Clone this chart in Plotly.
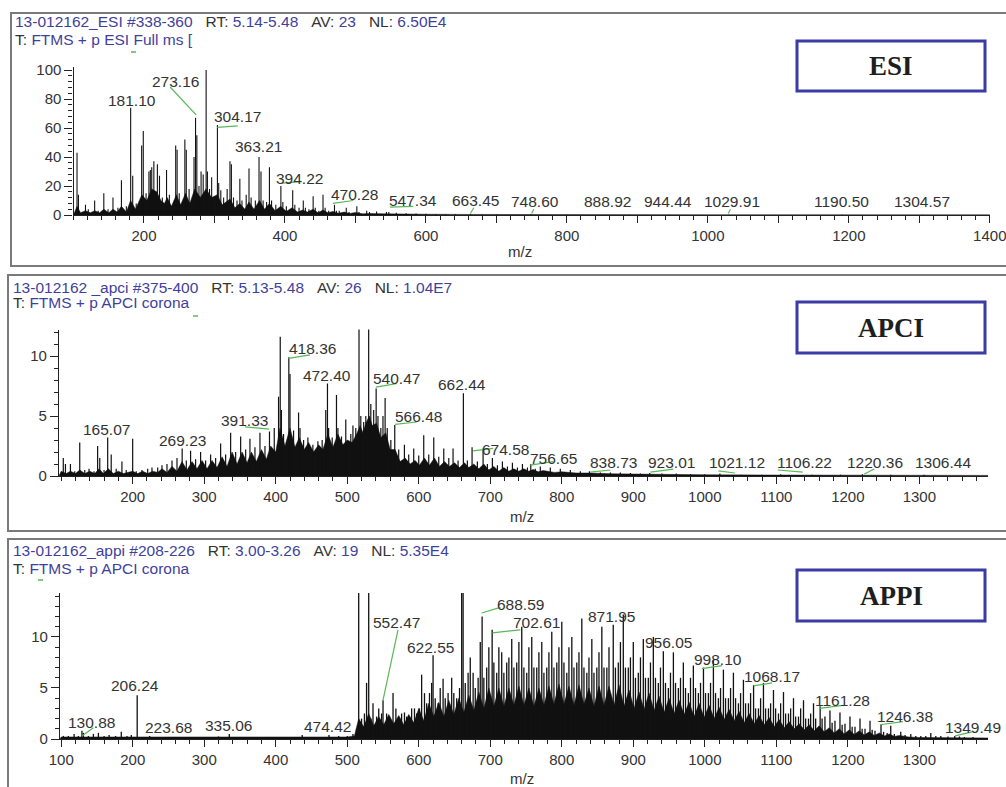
import plotly.graph_objects as go

W, H = 1006, 787

# ---------------- DATA ----------------
# ESI spectrum: stick peaks (m/z, relative abundance)
esi_mz = [105, 107, 117, 121, 130, 135, 143, 149, 156, 163, 168, 175, 181.10, 184, 189, 196.7, 199, 203,
          207, 209, 211, 214, 219, 222, 226, 232, 236, 245, 247, 250, 258, 260, 264, 271, 273.16, 275, 278,
          281, 284, 288.17, 290, 293, 296, 304.17, 306, 309, 313, 318, 322, 324, 327, 332, 336, 339, 345,
          349, 352, 358, 363.21, 366, 369, 374, 378, 381, 387, 394.22, 397, 402, 411, 414, 420, 426, 429,
          434, 440, 443, 448, 454, 457, 462, 470.28, 473, 477, 487, 491, 502, 505, 516, 520, 530, 544,
          547.34, 558, 572, 586, 600, 614, 628, 642, 663.45, 680, 700, 748.60, 800, 888.92, 944.44,
          1029.91, 1190.50, 1304.57]
esi_int = [43, 14, 7, 4, 10, 3, 15, 4, 12, 5, 24, 6, 74, 27, 8, 48, 58, 15,
           30, 31, 33, 37, 35, 27, 12, 31, 14, 48, 45, 15, 52, 45, 18, 40, 67, 55, 20,
           30, 28, 100, 30, 18, 26, 62, 22, 17, 12, 18, 37, 35, 12, 10, 25, 10, 14,
           32, 12, 10, 40, 30, 10, 9, 33, 10, 7, 20, 9, 6, 17, 7, 5, 10, 5,
           4, 13, 5, 3, 14, 5, 3, 7, 3, 3, 5, 2, 6, 2, 3, 2, 2.5, 2,
           2, 1.5, 1.2, 1, 0.8, 0.6, 0.5, 0.5, 0.6, 0.4, 0.3, 0.3, 0.2, 0.2, 0.2,
           0.2, 0.2, 0.2]
# ESI unresolved baseline envelope
esi_env_mz = [100, 105, 110, 117, 124, 130, 137, 143, 150, 156, 162, 168, 175, 181, 188, 197, 204, 211,
              218, 224, 229, 233, 239, 246, 252, 259, 265, 272, 280, 288, 296, 304, 311, 322, 329, 336,
              343, 349, 356, 364, 371, 378, 386, 394, 402, 410, 418, 425, 432, 440, 447, 454, 461, 468,
              476, 484, 492, 500, 510, 520, 540, 560, 600, 650, 700, 800, 1000, 1400]
esi_env_int = [0, 6, 1.5, 3, 1.5, 3, 1.5, 4, 1.5, 4, 2, 6, 2, 10, 4, 14, 10, 18,
               16, 10, 8, 12, 6, 14, 7, 15, 8, 18, 12, 18, 12, 14, 7, 11, 5, 8,
               4, 9, 4, 10, 4, 8, 3, 6, 2.5, 5, 2, 3.5, 2, 4, 1.5, 3.5, 1.5, 2.5,
               1.2, 2, 1, 1.8, 0.8, 1, 0.8, 0.6, 0.5, 0.4, 0.3, 0.2, 0.15, 0.1]
esi_labels = ["288.17", "273.16", "181.10", "304.17", "363.21", "394.22", "470.28", "547.34",
              "663.45", "748.60", "888.92", "944.44", "1029.91", "1190.50", "1304.57"]

# APCI spectrum
apci_mz = [103, 106, 113, 119, 126, 133, 139, 146, 151, 154, 160, 165.07, 170, 177, 185, 191, 200, 205,
           213, 221, 227, 235, 241, 248, 255, 262, 269.23, 275, 281, 288, 295, 302, 309, 316, 323, 330,
           337, 344, 351, 358, 364, 371, 378, 385, 391.33, 398, 404, 406.36, 408, 411, 418.36, 420, 425,
           432, 434, 439, 445, 452, 459, 465, 470, 472.40, 474, 479, 485, 487, 492, 498, 505, 508, 512,
           516.5, 519, 523, 526, 530, 533, 537, 540.47, 543, 547, 550, 553, 556, 561, 566.48, 572, 580,
           586, 593, 600, 607, 614, 621, 628, 635, 642, 648, 655, 662.44, 668, 674.58, 682, 690, 696,
           703, 710, 717, 724, 731, 738, 745, 752, 756.65, 763, 770, 784, 798, 812, 826, 838.73, 854,
           868, 882, 896, 910, 923.01, 940, 960, 980, 1000, 1021.12, 1050, 1080, 1106.22, 1150, 1190,
           1220.36, 1260, 1306.44]
apci_int = [1.5, 1.0, 1.0, 0.4, 2.8, 0.5, 0.6, 0.4, 2.5, 1.5, 0.5, 3.2, 1.8, 0.6, 1.2, 0.5, 3.1, 0.4,
            0.5, 0.6, 0.7, 0.7, 0.9, 1.0, 1.3, 1.5, 2.3, 1.3, 2.1, 1.4, 2.0, 1.3, 1.8, 1.5, 2.7, 1.8,
            3.6, 2.0, 3.3, 2.2, 3.1, 2.4, 3.6, 2.5, 3.7, 4.0, 6.6, 11.6, 5.5, 3.5, 9.9, 8.5, 3.8,
            5.3, 4.0, 3.0, 3.2, 2.6, 2.9, 3.0, 5.5, 7.7, 4.0, 3.2, 6.75, 4.0, 3.3, 4.7, 3.5, 4.2, 4.0,
            15, 5.0, 4.5, 5.0, 15, 6.0, 5.5, 7.3, 5.0, 4.0, 5.0, 6.5, 4.0, 3.0, 4.25, 2.2, 2.6,
            1.8, 2.3, 1.7, 3.4, 1.8, 3.2, 1.6, 2.3, 1.5, 2.3, 1.3, 6.9, 1.3, 2.4, 1.2, 2.3, 1.0,
            1.5, 0.9, 1.2, 0.8, 1.1, 0.7, 1.0, 0.7, 1.0, 0.6, 0.8, 0.7, 0.6, 0.5, 0.4, 0.4, 0.3,
            0.3, 0.3, 0.25, 0.2, 0.25, 0.2, 0.2, 0.15, 0.15, 0.2, 0.1, 0.1, 0.15, 0.1, 0.1,
            0.15, 0.1, 0.1]
apci_env_mz = [97, 100, 107, 113, 120, 126, 133, 140, 147, 153, 159, 166, 173, 180, 187, 200, 207, 214, 221,
               228, 235, 241, 248, 255, 262, 269, 276, 283, 290, 297, 304, 311, 318, 325, 332, 339, 346,
               353, 360, 366, 373, 380, 387, 393, 400, 406, 413, 420, 427, 433, 440, 446, 453, 460, 466,
               473, 480, 487, 494, 500, 507, 514, 518, 522, 526, 531, 535, 541, 547, 554, 560, 567, 574,
               581, 588, 595, 601, 608, 615, 622, 629, 636, 643, 650, 657, 664, 670, 677, 684, 691, 698,
               705, 712, 719, 726, 733, 740, 747, 754, 760, 767, 774, 790, 800, 820, 840, 870, 900, 950,
               1000, 1100, 1200, 1396]
apci_env_int = [0, 0.4, 0.2, 0.4, 0.2, 0.5, 0.2, 0.4, 0.2, 0.6, 0.2, 0.6, 0.2, 0.4, 0.2, 0.4, 0.2, 0.4, 0.2,
                0.4, 0.3, 0.6, 0.3, 0.8, 0.4, 1.2, 0.5, 1.2, 0.6, 1.3, 0.6, 1.3, 0.7, 1.6, 0.8, 2.0, 1.0,
                2.0, 1.1, 2.0, 1.2, 2.2, 1.4, 2.5, 2.0, 4.0, 2.5, 4.0, 2.4, 3.2, 2.2, 2.8, 2.0, 2.6, 2.2,
                3.5, 2.4, 3.5, 2.6, 3.0, 2.8, 3.6, 4.2, 3.6, 4.4, 5.0, 4.2, 4.4, 3.2, 3.6, 2.2, 2.2, 1.2,
                1.5, 1.0, 1.3, 0.9, 1.5, 0.9, 1.5, 0.8, 1.2, 0.8, 1.1, 0.7, 1.1, 0.7, 1.0, 0.6, 1.0, 0.5,
                0.8, 0.4, 0.7, 0.4, 0.6, 0.4, 0.6, 0.4, 0.55, 0.35, 0.45, 0.3, 0.35, 0.25, 0.25, 0.18, 0.15, 0.12,
                0.1, 0.08, 0.06, 0.05]
apci_labels = ["406.36", "418.36", "472.40", "540.47", "662.44", "165.07", "269.23", "391.33", "566.48",
               "674.58", "756.65", "838.73", "923.01", "1021.12", "1106.22", "1220.36", "1306.44"]

# APPI spectrum
appi_mz = [103, 110, 118, 124, 129, 131, 138, 145, 152, 160, 167, 176, 184, 192, 198, 206.24, 215, 223.68,
           235, 250, 265, 280, 300, 320, 335.06, 350, 370, 390, 410, 437, 452, 474.42, 488, 500, 508, 513,
           516, 520, 524, 527, 530, 533, 536, 541, 544, 548, 550, 555, 559, 564, 568, 572, 576, 580, 583,
           587, 590, 594, 597, 601, 604, 608, 611, 615, 618, 620, 623, 627, 630, 634, 637, 641, 646, 649,
           653, 657, 660, 662, 665, 669, 672, 676, 679, 683, 686, 688.59, 691, 695, 698, 702.61, 705, 709,
           712, 716, 719, 723, 726, 730, 733, 737, 740, 744, 747, 751, 754, 758, 761, 765, 768, 772, 775,
           779, 782, 786, 789, 793, 796, 800, 803, 807, 810, 814, 817, 821, 824, 828, 831, 835, 838, 842,
           845, 849, 852, 856, 859, 863, 866, 871.95, 875, 879, 882, 886, 889, 893, 896, 900, 903, 907,
           910, 914, 917, 921, 924, 928, 931, 935, 938, 942, 945, 949, 952, 956.05, 959, 963, 966, 970,
           973, 977, 980, 984, 987, 991, 994, 998.10, 1001, 1005, 1008, 1012, 1015, 1019, 1022, 1026,
           1029, 1033, 1036, 1040, 1043, 1047, 1050, 1054, 1057, 1061, 1064, 1068.17, 1071, 1075, 1078,
           1082, 1085, 1089, 1092, 1096, 1099, 1103, 1106, 1110, 1113, 1117, 1120, 1124, 1127, 1131,
           1134, 1138, 1141, 1145, 1148, 1152, 1155, 1161.28, 1164, 1168, 1175, 1178, 1182, 1189, 1192,
           1196, 1203, 1206, 1210, 1217, 1220, 1224, 1231, 1234, 1238, 1246.38, 1250, 1255, 1260, 1265,
           1274, 1280, 1288, 1295, 1302, 1309, 1316, 1323, 1330, 1340, 1349.49, 1356, 1363, 1375]
appi_int = [0.3, 0.3, 0.5, 0.3, 0.8, 0.6, 0.3, 0.5, 0.6, 0.3, 0.4, 0.3, 0.7, 0.3, 0.4, 4.3, 0.2, 0.3,
            0.2, 0.2, 0.2, 0.2, 0.2, 0.25, 0.5, 0.2, 0.2, 0.2, 0.2, 0.4, 0.2, 0.4, 0.3, 0.3, 0.5, 1.0,
            20, 2.0, 2.5, 5.5, 20, 2.0, 3.5, 2.2, 3.0, 2.5, 3.8, 2.5, 2.2, 4.5, 3.0, 2.0, 2.5, 2.6, 2.2,
            2.0, 3.0, 3.0, 2.5, 3.0, 6.3, 4.5, 3.5, 4.5, 5.5, 8.2, 4.0, 3.5, 5.0, 5.9, 4.0, 4.5, 6.0, 4.5,
            4.0, 5.0, 20, 20, 5.5, 6.5, 8.0, 6.5, 5.0, 6.0, 9.5, 12.0, 6.0, 7.0, 9.0, 10.7, 7.5, 6.5,
            9.0, 8.5, 6.5, 7.5, 8.0, 9.8, 7.0, 7.5, 9.5, 11.0, 7.0, 6.5, 9.0, 10.0, 7.0, 7.0, 8.5, 9.5, 6.5,
            7.0, 8.5, 10.5, 7.0, 7.5, 9.0, 11.5, 7.5, 6.5, 9.0, 10.0, 7.0, 7.5, 8.5, 11.8, 7.0, 6.5, 8.0, 9.8,
            6.5, 7.0, 8.5, 11.0, 7.0, 7.0, 9.0, 11.2, 7.0, 7.5, 9.5, 12.2, 7.0, 7.0, 8.0, 9.5, 6.0, 6.5,
            8.0, 9.8, 6.0, 6.0, 7.5, 10.0, 6.0, 5.5, 7.0, 8.6, 5.5, 5.0, 6.5, 8.5, 5.5, 5.0, 6.0, 7.5,
            5.0, 4.5, 6.0, 7.2, 5.0, 4.5, 5.5, 7.0, 4.5, 4.5, 5.5, 7.8, 4.5, 4.0, 5.0, 6.8,
            4.0, 4.0, 5.0, 6.5, 4.0, 3.5, 4.5, 5.8, 3.5, 3.5, 4.5, 5.3, 3.0, 3.0, 4.0,
            5.5, 3.0, 3.0, 3.5, 4.8, 3.0, 2.5, 3.5, 4.6, 2.5, 2.5, 3.0, 4.0, 2.2, 2.2,
            3.0, 3.8, 2.0, 2.0, 2.5, 3.5, 2.0, 3.2, 2.0, 2.2, 2.8, 1.6, 1.8, 2.6, 1.4,
            1.5, 2.2, 1.2, 1.2, 2.0, 1.0, 1.0, 1.8, 0.9, 0.8, 1.4, 0.7, 0.6, 1.3, 0.5,
            0.7, 0.4, 0.5, 0.3, 0.3, 0.3, 0.6, 0.3, 0.3, 0.25, 0.3, 0.25, 0.2, 0.2]
appi_env_mz = [98.3, 100, 300, 500, 510, 516, 523, 530, 537, 544, 551, 558, 565, 572, 579, 586, 593, 600,
               607, 614, 621, 628, 635, 642, 649, 656, 663, 670, 677, 684, 691, 698, 705, 712, 719, 726,
               733, 740, 747, 754, 761, 768, 775, 782, 789, 796, 803, 810, 817, 824, 831, 838, 845, 852,
               859, 866, 873, 880, 887, 894, 901, 908, 915, 922, 929, 936, 943, 950, 957, 964, 971, 978,
               985, 992, 999, 1006, 1013, 1020, 1027, 1034, 1041, 1048, 1055, 1062, 1069, 1076, 1083,
               1090, 1097, 1104, 1111, 1118, 1125, 1132, 1139, 1146, 1153, 1160, 1167, 1174, 1181, 1188,
               1195, 1202, 1209, 1216, 1223, 1230, 1237, 1244, 1251, 1258, 1265, 1272, 1285, 1300, 1396]
appi_env_int = [0, 0.2, 0.2, 0.2, 0.3, 2.0, 1.2, 2.5, 1.3, 2.2, 1.4, 2.4, 1.5, 2.3, 1.4, 2.4, 1.6, 3.0,
                1.8, 3.5, 2.2, 3.6, 2.2, 3.8, 2.4, 4.0, 2.6, 4.3, 2.8, 4.6, 3.0, 5.0, 3.2, 5.0, 3.2, 5.0,
                3.3, 5.2, 3.3, 5.0, 3.2, 5.0, 3.3, 5.2, 3.4, 5.4, 3.4, 5.2, 3.3, 5.3, 3.4, 5.0, 3.2, 5.2,
                3.3, 5.2, 3.3, 5.3, 3.2, 4.8, 3.0, 4.6, 2.9, 4.5, 2.8, 4.2, 2.6, 4.0, 2.5, 3.8, 2.4, 3.6,
                2.2, 3.5, 2.1, 3.3, 2.0, 3.1, 1.9, 2.9, 1.8, 2.7, 1.6, 2.5, 1.5, 2.3, 1.4,
                2.1, 1.2, 1.9, 1.1, 1.7, 1.0, 1.5, 0.9, 1.4, 0.8, 1.3, 0.7, 1.1, 0.6, 1.0,
                0.5, 0.9, 0.45, 0.8, 0.4, 0.7, 0.35, 0.6, 0.3, 0.5, 0.25, 0.35, 0.2, 0.15, 0.1]
appi_labels = ["130.88", "206.24", "223.68", "335.06", "474.42", "552.47", "622.55", "688.59", "702.61",
               "871.95", "956.05", "998.10", "1068.17", "1161.28", "1246.38", "1349.49"]

# ---------------- POSITIONS / STYLE ----------------
esi_label_pos = [(289, 107), (245, 92), (183, 79), (333, 68), (362, 47), (421, 25.5), (498, 14), (582, 9.7),
                 (670, 9.7), (755, 9), (858, 9), (943, 9), (1034, 9), (1190, 9), (1304, 9)]
esi_leaders = [(237, 88.3, 274, 69), (304, 60.5, 333, 61.5), (396, 22, 424, 23), (468, 8, 497, 10),
               (549, 5.5, 582, 6), (663, 1, 668, 5), (750, 1, 753, 4), (1029, 1, 1032, 4)]
apci_label_pos = [(392, 12.3), (451, 10.6), (472, 8.4), (569, 8.1), (661, 7.6), (164, 3.9), (269, 3.0),
                  (357, 4.6), (599, 5.0), (721, 2.2), (788, 1.5), (872, 1.1), (954, 1.1), (1045, 1.1),
                  (1140, 1.1), (1238, 1.1), (1333, 1.1)]
apci_leaders = [(418, 9.8, 448, 10.1), (540, 7.4, 569, 7.7), (357, 4.1, 391, 3.9), (567, 4.3, 597, 4.5),
                (676, 2.1, 704, 2.3), (756, 0.9, 788, 1.2), (840, 0.33, 868, 0.5), (924, 0.33, 956, 0.58),
                (1019, 0.42, 1042, 0.25), (1102, 0.5, 1137, 0.33), (1223, 0.17, 1237, 0.58)]
appi_label_pos = [(143, 1.6), (203, 5.2), (250, 1.1), (334, 1.3), (472, 1.2), (569, 11.4), (616, 9.0),
                  (742, 13.2), (765, 11.4), (870, 12.0), (949, 9.5), (1019, 7.8), (1094, 6.1),
                  (1193, 3.8), (1280, 2.2), (1375, 1.1)]
appi_leaders = [(129, 0.3, 145, 1.1), (571, 10.7, 550, 3.8), (688, 12.35, 714, 12.9), (703, 10.4, 742, 10.7),
                (996, 6.9, 1024, 7.2), (1068, 5.2, 1094, 5.5), (1161, 3.0, 1193, 3.3), (1245, 1.4, 1277, 1.7),
                (1350, 0.3, 1374, 0.7)]


def px(x):
    return x / W


def py(y):
    return 1 - y / H


FONT = "Liberation Sans, Arial, sans-serif"
TXT = "#333333"
BLUE = "#3f3f9c"
GREEN = "#58b858"


def sticks(ms, vs):
    xs, ys = [], []
    for m, v in zip(ms, vs):
        xs += [m, m, None]
        ys += [0, v, None]
    return xs, ys


fig = go.Figure()

panels = [
    dict(ax="", mz=esi_mz, it=esi_int, emz=esi_env_mz, eit=esi_env_int, labels=esi_labels,
         lpos=esi_label_pos, leaders=esi_leaders, lw=1.1),
    dict(ax="2", mz=apci_mz, it=apci_int, emz=apci_env_mz, eit=apci_env_int, labels=apci_labels,
         lpos=apci_label_pos, leaders=apci_leaders, lw=1.2),
    dict(ax="3", mz=appi_mz, it=appi_int, emz=appi_env_mz, eit=appi_env_int, labels=appi_labels,
         lpos=appi_label_pos, leaders=appi_leaders, lw=1.3),
]

annotations = []
shapes = []

for p in panels:
    xa, ya = "x" + p["ax"], "y" + p["ax"]
    fig.add_trace(go.Scatter(x=p["emz"], y=p["eit"], mode="lines", fill="tozeroy", fillcolor="#111111",
                             line=dict(color="#111111", width=0.5), xaxis=xa, yaxis=ya,
                             hoverinfo="skip", showlegend=False))
    sx, sy = sticks(p["mz"], p["it"])
    fig.add_trace(go.Scatter(x=sx, y=sy, mode="lines", line=dict(color="#111111", width=p["lw"]),
                             xaxis=xa, yaxis=ya, hoverinfo="skip", showlegend=False))
    for t, (lx, ly) in zip(p["labels"], p["lpos"]):
        annotations.append(dict(x=lx, y=ly, xref=xa, yref=ya, text=t, showarrow=False,
                                font=dict(family=FONT, size=15.5, color=TXT),
                                xanchor="center", yanchor="middle"))
    for (x0, y0, x1, y1) in p["leaders"]:
        shapes.append(dict(type="line", xref=xa, yref=ya, x0=x0, y0=y0, x1=x1, y1=y1,
                           line=dict(color=GREEN, width=1.2)))

# panel frames
for (x0, y0, x1, y1) in [(11, 13, 1012, 266), (8, 275, 1012, 531), (8, 539, 1012, 800)]:
    shapes.append(dict(type="rect", xref="paper", yref="paper", x0=px(x0), y0=py(y1), x1=px(x1), y1=py(y0),
                       line=dict(color="#7a7a7a", width=2), layer="below"))

# method boxes
for (name, y0, y1) in [("ESI", 41, 91), ("APCI", 302, 353), ("APPI", 570, 621)]:
    shapes.append(dict(type="rect", xref="paper", yref="paper", x0=px(797), x1=px(985), y0=py(y1), y1=py(y0),
                       line=dict(color="#3b3ba6", width=3), fillcolor="white"))
    annotations.append(dict(x=px(891), y=py((y0 + y1) / 2), xref="paper", yref="paper", text="<b>%s</b>" % name,
                            showarrow=False, font=dict(family="Liberation Serif, Times New Roman, serif",
                                                       size=27, color="#1e1e1e"),
                            xanchor="center", yanchor="middle"))


def hdr(parts):
    s = ""
    for txt, blue in parts:
        s += '<span style="color:%s">%s</span>' % (BLUE if blue else TXT, txt)
    return s


SP = "&nbsp;&nbsp;&nbsp;"
headers = [
    (13, 22, [("13-012162_ESI #338-360", True), (SP + "RT: ", False), ("5.14-5.48", True),
              (SP + "AV: ", False), ("23", True), (SP + "NL: ", False), ("6.50E4", True)]),
    (13, 40, [("T: ", False), ("FTMS + p ESI Full ms [", True)]),
    (11, 287, [("13-012162 _apci #375-400", True), (SP + "RT: ", False), ("5.13-5.48", True),
               (SP + "AV: ", False), ("26", True), (SP + "NL: ", False), ("1.04E7", True)]),
    (11, 303, [("T: ", False), ("FTMS + p APCI corona", True)]),
    (11, 550, [("13-012162_appi #208-226", True), (SP + "RT: ", False), ("3.00-3.26", True),
               (SP + "AV: ", False), ("19", True), (SP + "NL: ", False), ("5.35E4", True)]),
    (11, 568, [("T: ", False), ("FTMS + p APCI corona", True)]),
]
for (x, y, parts) in headers:
    annotations.append(dict(x=px(x), y=py(y), xref="paper", yref="paper", text=hdr(parts), showarrow=False,
                            font=dict(family=FONT, size=15.5, color=TXT), xanchor="left", yanchor="middle"))

# small green marks under headers
for (x0, x1, y) in [(131, 136, 52), (193, 198, 316), (38, 43, 580)]:
    shapes.append(dict(type="line", xref="paper", yref="paper", x0=px(x0), x1=px(x1), y0=py(y), y1=py(y),
                       line=dict(color=GREEN, width=1.5)))

# m/z titles
for (x, y) in [(520, 252), (522, 516), (522, 778)]:
    annotations.append(dict(x=px(x), y=py(y), xref="paper", yref="paper", text="m/z", showarrow=False,
                            font=dict(family=FONT, size=15, color=TXT), xanchor="center", yanchor="middle"))

tickfont = dict(family=FONT, size=15, color=TXT)
common_x = dict(showline=True, linecolor="#222", linewidth=1.2, ticks="outside", ticklen=7, tickwidth=1,
                tickcolor="#222", showgrid=False, zeroline=False, tickfont=tickfont, automargin=False,
                ticklabeloverflow="allow",
                minor=dict(ticks="outside", ticklen=4, dtick=20, tickcolor="#222", showgrid=False))
common_y = dict(showline=True, linecolor="#222", linewidth=1.2, ticks="outside", ticklen=8, tickwidth=1,
                tickcolor="#222", showgrid=False, zeroline=False, tickfont=tickfont, automargin=False)

esi_ticks = list(range(200, 1401, 100))
fig.update_layout(
    width=W, height=H, margin=dict(l=0, r=0, t=0, b=0, autoexpand=False), showlegend=False,
    plot_bgcolor="white", paper_bgcolor="white",
    xaxis=dict(domain=[px(73.5), px(990)], range=[100, 1400.3], anchor="y", tickvals=esi_ticks,
               ticktext=[str(v) if v % 200 == 0 else "" for v in esi_ticks], **common_x),
    yaxis=dict(domain=[py(215), py(67.1)], range=[0, 102], anchor="x", tickvals=[0, 20, 40, 60, 80, 100],
               minor=dict(ticks="outside", ticklen=4, dtick=4, tickcolor="#222", showgrid=False), **common_y),
    xaxis2=dict(domain=[px(59), px(988)], range=[97, 1396], anchor="y2", tickvals=list(range(200, 1301, 100)),
                **common_x),
    yaxis2=dict(domain=[py(476), py(329.6)], range=[0, 12.2], anchor="x2", tickvals=[0, 5, 10],
                minor=dict(ticks="outside", ticklen=4, dtick=1, tickcolor="#222", showgrid=False), **common_y),
    xaxis3=dict(domain=[px(60), px(988)], range=[98.3, 1396], anchor="y3", tickvals=list(range(100, 1301, 100)),
                **common_x),
    yaxis3=dict(domain=[py(739), py(593.1)], range=[0, 14.3], anchor="x3", tickvals=[0, 5, 10],
                minor=dict(ticks="outside", ticklen=4, dtick=1, tickcolor="#222", showgrid=False), **common_y),
    annotations=annotations, shapes=shapes,
)

fig.write_html("out.html")
